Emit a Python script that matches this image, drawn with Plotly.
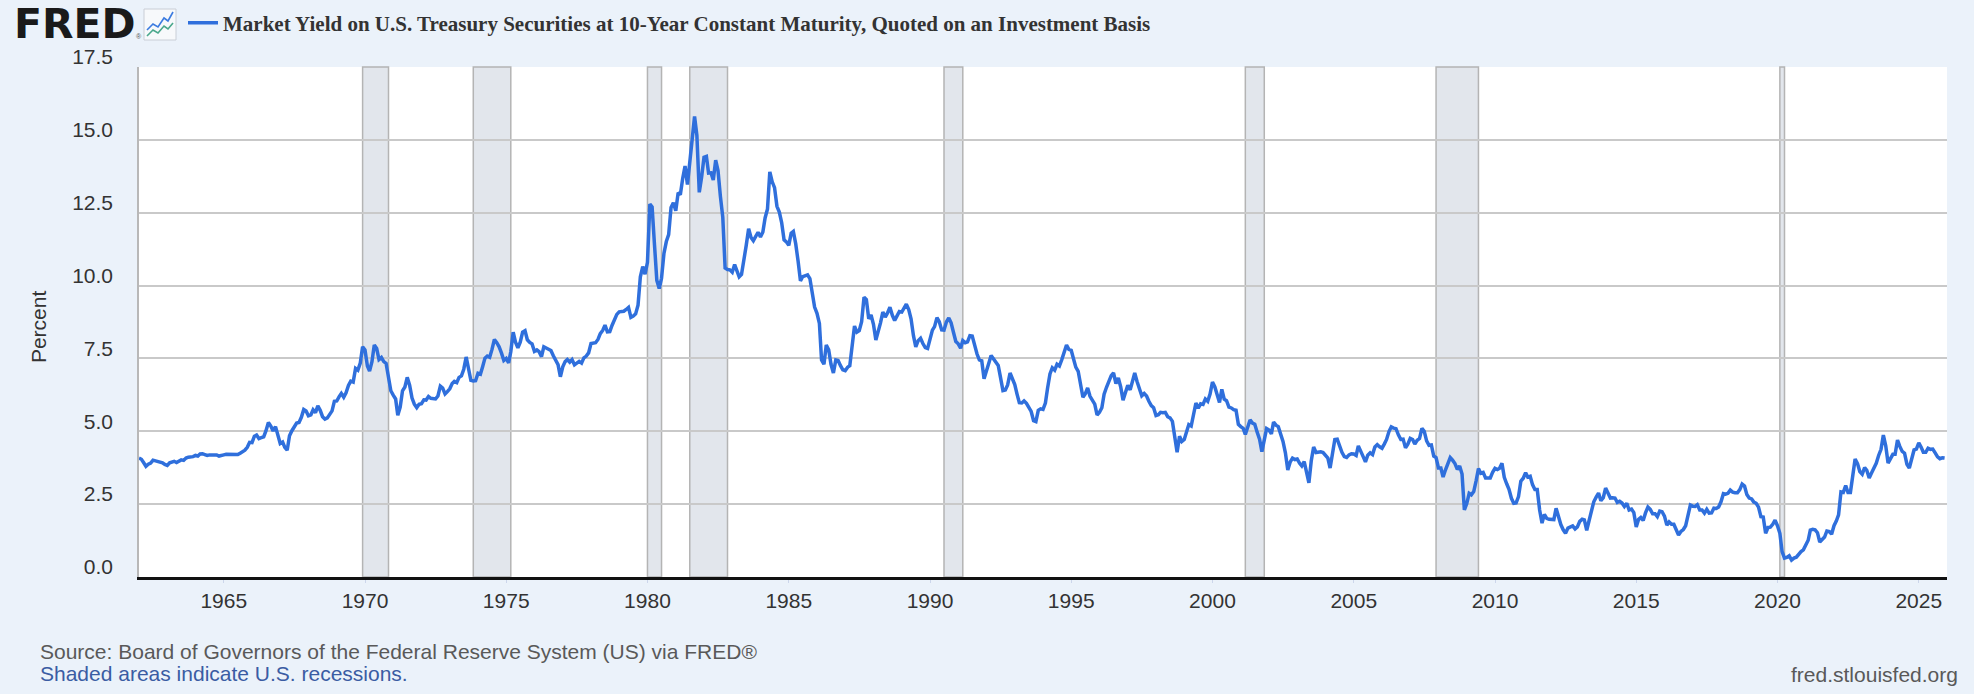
import pandas as pd
import plotly.graph_objects as go

series_name = "Market Yield on U.S. Treasury Securities at 10-Year Constant Maturity, Quoted on an Investment Basis"

# monthly readings (percent), January 1962 onward
y_1960s = [
    4.08, 4.04, 3.93, 3.80, 3.87, 3.91, 4.01, 3.98, 3.98, 3.93, 3.92, 3.86,
    3.83, 3.92, 3.93, 3.97, 3.93, 3.99, 4.02, 4.00, 4.08, 4.11, 4.12, 4.13,
    4.17, 4.15, 4.22, 4.23, 4.20, 4.17, 4.19, 4.19, 4.20, 4.19, 4.15, 4.18,
    4.19, 4.21, 4.21, 4.20, 4.21, 4.21, 4.20, 4.25, 4.29, 4.35, 4.45, 4.62,
    4.61, 4.83, 4.87, 4.75, 4.78, 4.81, 5.02, 5.30, 5.18, 5.01, 5.16, 4.84,
    4.58, 4.63, 4.45, 4.35, 4.85, 5.02, 5.16, 5.28, 5.30, 5.48, 5.75, 5.70,
    5.53, 5.56, 5.74, 5.64, 5.87, 5.72, 5.50, 5.42, 5.46, 5.58, 5.70, 6.03,
    6.04, 6.19, 6.30, 6.17, 6.32, 6.57, 6.72, 6.69, 7.16, 7.10, 7.34, 7.90,
]
y_1970s = [
    7.79, 7.24, 7.07, 7.39, 7.96, 7.84, 7.46, 7.53, 7.39, 7.33, 6.84, 6.39,
    6.24, 6.11, 5.55, 5.83, 6.39, 6.52, 6.85, 6.58, 6.14, 5.93, 5.81, 5.93,
    5.95, 6.08, 6.07, 6.19, 6.13, 6.11, 6.11, 6.21, 6.55, 6.48, 6.28, 6.36,
    6.46, 6.64, 6.71, 6.67, 6.85, 6.90, 7.13, 7.55, 7.09, 6.75, 6.73, 6.74,
    6.99, 6.96, 7.21, 7.51, 7.58, 7.54, 7.81, 8.15, 8.04, 7.90, 7.68, 7.43,
    7.50, 7.35, 7.73, 8.40, 8.06, 7.86, 8.06, 8.40, 8.45, 8.14, 8.05, 8.00,
    7.74, 7.79, 7.73, 7.56, 7.90, 7.86, 7.83, 7.77, 7.59, 7.41, 7.29, 6.87,
    7.21, 7.39, 7.46, 7.37, 7.46, 7.28, 7.33, 7.40, 7.34, 7.52, 7.58, 7.69,
    8.01, 8.03, 8.04, 8.15, 8.35, 8.46, 8.64, 8.41, 8.42, 8.64, 8.81, 9.01,
    9.10, 9.10, 9.12, 9.18, 9.25, 8.91, 8.95, 9.03, 9.33, 10.30, 10.65, 10.39,
]
y_1980s = [
    10.80, 12.80, 12.70, 11.40, 10.18, 9.90, 10.25, 11.10, 11.51, 11.75, 12.68, 12.84,
    12.57, 13.19, 13.12, 13.68, 14.10, 13.47, 14.28, 14.94, 15.80, 15.15, 13.20, 13.72,
    14.40, 14.43, 13.86, 13.87, 13.62, 14.30, 13.95, 13.06, 12.34, 10.60, 10.55, 10.54,
    10.46, 10.72, 10.51, 10.30, 10.38, 10.85, 11.38, 11.95, 11.65, 11.54, 11.69, 11.83,
    11.67, 11.84, 12.32, 12.63, 13.90, 13.56, 13.36, 12.72, 12.52, 12.16, 11.57, 11.50,
    11.38, 11.80, 11.86, 11.43, 10.85, 10.16, 10.31, 10.33, 10.37, 10.24, 9.78, 9.26,
    9.05, 8.70, 7.45, 7.30, 7.96, 7.80, 7.30, 7.00, 7.45, 7.43, 7.25, 7.11,
    7.08, 7.20, 7.25, 8.02, 8.61, 8.40, 8.45, 8.76, 9.60, 9.52, 8.86, 8.99,
    8.67, 8.13, 8.37, 8.72, 9.09, 8.92, 9.06, 9.26, 8.98, 8.80, 8.96, 9.11,
    9.09, 9.27, 9.36, 9.18, 8.86, 8.28, 7.90, 8.11, 8.19, 8.01, 7.87, 7.84,
]
y_1990s = [
    8.21, 8.47, 8.59, 8.90, 8.76, 8.48, 8.47, 8.75, 8.89, 8.72, 8.39, 8.08,
    8.00, 7.85, 8.11, 8.04, 8.07, 8.28, 8.27, 7.90, 7.65, 7.45, 7.42, 6.80,
    7.03, 7.34, 7.60, 7.48, 7.39, 7.26, 6.84, 6.40, 6.42, 6.59, 7.00, 6.77,
    6.60, 6.26, 5.98, 5.97, 6.04, 5.96, 5.81, 5.68, 5.36, 5.33, 5.72, 5.77,
    5.75, 5.97, 6.48, 6.97, 7.18, 7.10, 7.30, 7.24, 7.46, 7.74, 7.96, 7.81,
    7.78, 7.47, 7.20, 7.06, 6.63, 6.17, 6.28, 6.49, 6.20, 6.04, 5.93, 5.56,
    5.65, 5.81, 6.27, 6.51, 6.74, 6.91, 7.00, 6.64, 6.83, 6.53, 6.07, 6.30,
    6.58, 6.42, 6.69, 7.00, 6.71, 6.49, 6.22, 6.30, 6.21, 6.03, 5.88, 5.81,
    5.54, 5.57, 5.65, 5.64, 5.65, 5.50, 5.46, 5.34, 4.81, 4.28, 4.83, 4.65,
    4.72, 5.00, 5.23, 5.18, 5.54, 5.97, 5.79, 5.94, 5.92, 6.11, 6.03, 6.28,
]
y_2000s = [
    6.69, 6.52, 6.26, 5.99, 6.44, 6.10, 6.05, 5.83, 5.80, 5.74, 5.72, 5.24,
    5.16, 5.10, 4.89, 5.14, 5.39, 5.28, 5.24, 4.97, 4.73, 4.30, 4.65, 5.09,
    5.04, 4.91, 5.32, 5.21, 5.16, 4.93, 4.65, 4.26, 3.67, 3.94, 4.08, 4.03,
    4.05, 3.90, 3.81, 3.96, 3.57, 3.23, 3.98, 4.46, 4.27, 4.29, 4.30, 4.27,
    4.15, 4.08, 3.74, 4.35, 4.72, 4.73, 4.50, 4.28, 4.13, 4.10, 4.19, 4.23,
    4.22, 4.17, 4.50, 4.34, 4.14, 3.95, 4.18, 4.26, 4.20, 4.46, 4.54, 4.47,
    4.42, 4.57, 4.72, 4.99, 5.15, 5.11, 5.09, 4.88, 4.72, 4.73, 4.43, 4.56,
    4.76, 4.72, 4.56, 4.69, 4.75, 5.10, 5.00, 4.67, 4.52, 4.53, 4.15, 4.10,
    3.74, 3.74, 3.43, 3.68, 3.88, 4.10, 4.01, 3.89, 3.69, 3.81, 3.53, 2.30,
    2.52, 2.87, 2.82, 2.93, 3.29, 3.72, 3.56, 3.59, 3.40, 3.39, 3.40, 3.59,
]
y_2010s = [
    3.73, 3.69, 3.73, 3.90, 3.42, 3.20, 3.01, 2.70, 2.53, 2.54, 2.76, 3.29,
    3.39, 3.58, 3.43, 3.46, 3.17, 3.00, 3.00, 2.30, 1.85, 2.15, 2.01, 1.98,
    1.97, 1.97, 2.36, 2.05, 1.80, 1.62, 1.50, 1.68, 1.72, 1.75, 1.65, 1.72,
    1.91, 1.98, 1.96, 1.60, 1.93, 2.30, 2.58, 2.74, 2.88, 2.62, 2.72, 3.05,
    2.86, 2.71, 2.72, 2.71, 2.56, 2.60, 2.54, 2.42, 2.53, 2.30, 2.33, 2.21,
    1.72, 1.98, 2.04, 1.94, 2.20, 2.40, 2.32, 2.17, 2.17, 2.07, 2.26, 2.24,
    2.09, 1.78, 1.89, 1.81, 1.81, 1.64, 1.44, 1.56, 1.63, 1.76, 2.14, 2.47,
    2.43, 2.42, 2.48, 2.30, 2.30, 2.19, 2.32, 2.19, 2.20, 2.36, 2.35, 2.40,
    2.58, 2.86, 2.84, 2.87, 2.98, 2.91, 2.89, 2.89, 3.00, 3.19, 3.12, 2.83,
    2.71, 2.68, 2.57, 2.53, 2.40, 2.07, 2.06, 1.50, 1.70, 1.71, 1.81, 1.95,
]
y_2020s = [
    1.76, 1.50, 0.87, 0.65, 0.67, 0.73, 0.58, 0.65, 0.68, 0.79, 0.87, 0.93,
    1.08, 1.26, 1.61, 1.64, 1.62, 1.52, 1.20, 1.28, 1.37, 1.58, 1.56, 1.47,
    1.76, 1.93, 2.13, 2.92, 2.90, 3.14, 2.90, 2.90, 3.52, 4.05, 3.89, 3.62,
    3.53, 3.75, 3.66, 3.40, 3.57, 3.75, 3.90, 4.17, 4.38, 4.87, 4.50, 3.91,
    4.06, 4.21, 4.21, 4.70, 4.48, 4.31, 4.25, 3.87, 3.74, 4.10, 4.36, 4.39,
    4.60, 4.45, 4.28, 4.28, 4.42, 4.38, 4.39, 4.26, 4.12, 4.06, 4.09, 4.08,
]

recession_start = ["1969-12-01", "1973-11-01", "1980-01-01", "1981-07-01",
                   "1990-07-01", "2001-03-01", "2007-12-01", "2020-02-01"]
recession_end = ["1970-11-01", "1975-03-01", "1980-07-01", "1982-11-01",
                 "1991-03-01", "2001-11-01", "2009-06-01", "2020-04-01"]

values = y_1960s + y_1970s + y_1980s + y_1990s + y_2000s + y_2010s + y_2020s
dates = pd.date_range("1962-01-01", periods=len(values), freq="MS")

W, H = 1974, 694
L, R, T, B = 139, 27, 67, 117


def px_x(p):
    return (p - L) / (W - L - R)


def px_y(p):
    return (H - B - p) / (H - T - B)


fig = go.Figure()
fig.add_trace(go.Scatter(
    x=dates, y=values, mode="lines",
    name="<b>" + series_name + "</b>",
    line=dict(color="#2f6fdc", width=3.5),
))

shapes = []
for s, e in zip(recession_start, recession_end):
    shapes.append(dict(type="rect", xref="x", yref="paper", x0=s, x1=e, y0=0, y1=1,
                       fillcolor="#e2e6ec", line=dict(color="#b4b4b4", width=1.5),
                       layer="below"))

# small chart icon next to the logo
shapes.append(dict(type="rect", xref="paper", yref="paper",
                   x0=px_x(144), x1=px_x(176), y0=px_y(40), y1=px_y(9),
                   fillcolor="#f7f9fb", line=dict(color="#c9ced6", width=1), layer="above"))
blue_pts = [(147, 30), (153, 24), (158, 27), (164, 18), (168, 21), (173, 12)]
green_pts = [(147, 36), (153, 30), (158, 33), (164, 26), (168, 29), (173, 23)]
for pts, col in [(blue_pts, "#3b7be0"), (green_pts, "#4aa88c")]:
    path = "M " + " L ".join(f"{px_x(a):.5f},{px_y(b):.5f}" for a, b in pts)
    shapes.append(dict(type="path", xref="paper", yref="paper", path=path,
                       line=dict(color=col, width=1.6), layer="above"))

annotations = [
    dict(text="<b>FRED</b>", x=px_x(12), y=px_y(24), xref="paper", yref="paper",
         xanchor="left", yanchor="middle", showarrow=False, height=36,
         font=dict(family="DejaVu Sans", size=41, color="#1a1a1a")),
    dict(text="®", x=px_x(134), y=px_y(36), xref="paper", yref="paper",
         xanchor="left", yanchor="middle", showarrow=False,
         font=dict(family="Liberation Sans", size=7, color="#555")),
    dict(text="Percent", x=px_x(38), y=0.49, xref="paper", yref="paper",
         xanchor="center", yanchor="middle", textangle=-90, showarrow=False,
         font=dict(family="Liberation Sans", size=21, color="#333")),
    dict(text="Source: Board of Governors of the Federal Reserve System (US) via FRED®",
         x=px_x(38), y=px_y(651), xref="paper", yref="paper",
         xanchor="left", yanchor="middle", showarrow=False,
         font=dict(family="Liberation Sans", size=21, color="#595959")),
    dict(text="Shaded areas indicate U.S. recessions.",
         x=px_x(38), y=px_y(673), xref="paper", yref="paper",
         xanchor="left", yanchor="middle", showarrow=False,
         font=dict(family="Liberation Sans", size=21, color="#3a5ca3")),
    dict(text="fred.stlouisfed.org",
         x=px_x(1960), y=px_y(674), xref="paper", yref="paper",
         xanchor="right", yanchor="middle", showarrow=False,
         font=dict(family="Liberation Sans", size=21, color="#595959")),
]

fig.update_layout(
    width=W, height=H,
    margin=dict(l=L, r=R, t=T, b=B, pad=0, autoexpand=False),
    paper_bgcolor="#ebf2fa",
    plot_bgcolor="#ffffff",
    showlegend=True,
    legend=dict(x=px_x(183), y=px_y(23), xanchor="left", yanchor="middle",
                orientation="h", bgcolor="rgba(0,0,0,0)",
                font=dict(family="Liberation Serif", size=21, color="#333")),
    shapes=shapes,
    annotations=annotations,
    xaxis=dict(
        type="date", range=["1962-01-01", "2026-01-01"],
        tick0="1965-01-01", dtick="M60", tickformat="%Y",
        ticks="outside", ticklen=3, tickwidth=1, tickcolor="#ccd6eb",
        showgrid=False, zeroline=False,
        showline=True, linecolor="#111111", linewidth=2.5,
        tickfont=dict(family="Liberation Sans", size=21, color="#333"),
    ),
    yaxis=dict(
        range=[0, 17.5], tick0=0, dtick=2.5, tickformat=".1f",
        showgrid=True, gridcolor="#c9c9c9", gridwidth=1.5,
        zeroline=False, showline=True, linecolor="#b8b8b8", linewidth=1.5,
        ticks="", ticklabelposition="outside", ticklabelshift=-10, ticklabelstandoff=20,
        tickfont=dict(family="Liberation Sans", size=21, color="#333"),
    ),
)

fig.write_html("out.html", config={"displayModeBar": False},
               post_script="document.body.style.margin='0';document.body.style.overflow='hidden';")
